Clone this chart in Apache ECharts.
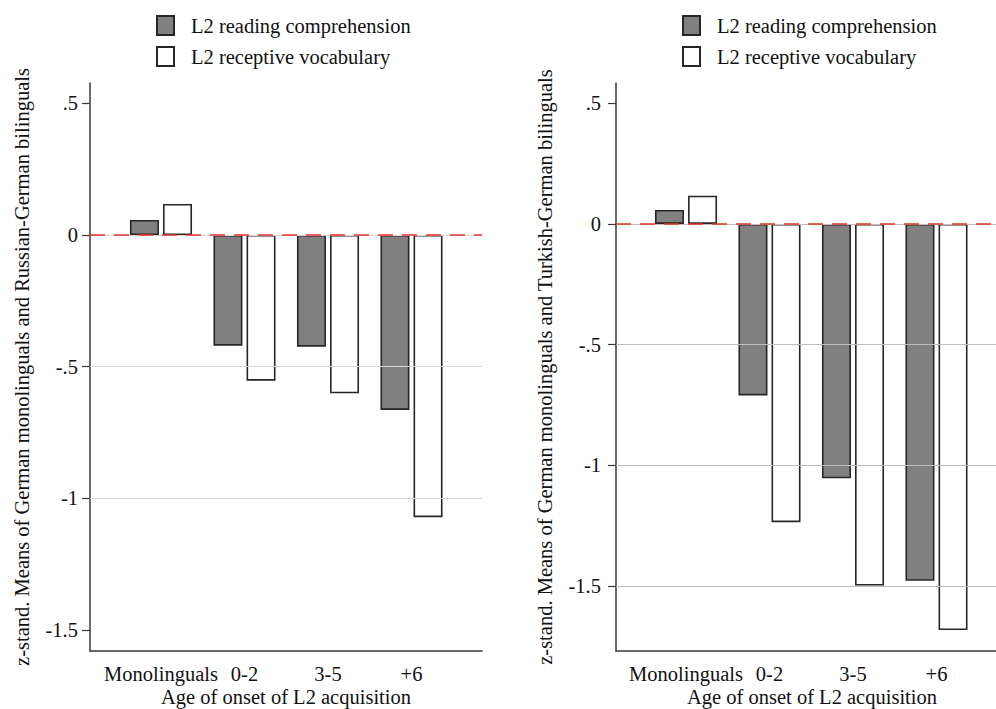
<!DOCTYPE html>
<html>
<head>
<meta charset="utf-8">
<script src="https://cdn.jsdelivr.net/npm/echarts@6/dist/echarts.min.js"></script>
<style>html,body{margin:0;padding:0;background:#fff}#c{width:996px;height:709px}</style>
</head>
<body>
<div id="c"></div>
<script>
// ---- data ----
var categories = ['Monolinguals', '0-2', '3-5', '+6'];
var seriesNames = ['L2 reading comprehension', 'L2 receptive vocabulary'];
var readingRU = [0.057, -0.420, -0.424, -0.664];
var vocabRU   = [0.118, -0.553, -0.601, -1.071];
var readingTR = [0.058, -0.711, -1.054, -1.479];
var vocabTR   = [0.117, -1.236, -1.499, -1.683];
var tickValues = [0.5, 0, -0.5, -1, -1.5];
var tickLabels = ['.5', '0', '-.5', '-1', '-1.5'];
var gridLinesRU = [0, -0.5, -1];
var gridLinesTR = [0, -0.5, -1, -1.5];
var rangeRU = [-1.579, 0.577];
var rangeTR = [-1.770, 0.584];
var yTitleRU = 'z-stand. Means of German monolinguals and Russian-German bilinguals';
var yTitleTR = 'z-stand. Means of German monolinguals and Turkish-German bilinguals';
var xTitle = 'Age of onset of L2 acquisition';

// ---- styling ----
var FONT = 'Liberation Serif';
var FS = 20.5;
var AX = '#3a3a3a';
function fmt(v) {
  for (var i = 0; i < tickValues.length; i++) if (Math.abs(tickValues[i] - v) < 1e-9) return tickLabels[i];
  return '';
}
function frameX(grid) {
  return {
    gridIndex: grid, type: 'value', min: 0, max: 1,
    axisLine: { show: true, onZero: false, lineStyle: { color: AX, width: 1.5 } },
    axisTick: { show: false }, axisLabel: { show: false }, splitLine: { show: false },
    name: xTitle, nameLocation: 'middle', nameGap: 35,
    nameTextStyle: { fontFamily: FONT, fontSize: FS, color: '#111' }
  };
}
function barX(grid) {
  return {
    gridIndex: grid, type: 'category', data: categories,
    axisLine: { show: false }, axisTick: { show: false }, splitLine: { show: false },
    axisLabel: { interval: 0, hideOverlap: false, margin: 12, fontFamily: FONT, fontSize: FS, color: '#111' }
  };
}
function frameY(grid, range, title, labelMargin, nameGap) {
  return {
    gridIndex: grid, type: 'value', min: range[0], max: range[1],
    axisLine: { show: true, onZero: false, lineStyle: { color: AX, width: 1.5 } },
    axisTick: { show: true, inside: false, length: 8, customValues: tickValues, lineStyle: { color: AX, width: 1.2 } },
    axisLabel: { customValues: tickValues, formatter: fmt, margin: labelMargin, fontFamily: FONT, fontSize: FS, color: '#111' },
    splitLine: { show: false },
    name: title, nameLocation: 'middle', nameGap: nameGap, nameRotate: 90,
    nameTextStyle: { fontFamily: FONT, fontSize: FS, color: '#111' }
  };
}
function barY(grid, range) {
  return { gridIndex: grid, type: 'value', min: range[0], max: range[1], show: false, splitLine: { show: false } };
}
function bars(name, data, axis, fill) {
  return {
    name: name, type: 'bar', xAxisIndex: axis, yAxisIndex: axis, data: data,
    barWidth: 29, barGap: '14%', z: 3,
    itemStyle: { color: fill, borderColor: '#262626', borderWidth: 1.6 }
  };
}
function gridHelper(axis, lines, color) {
  return {
    type: 'line', xAxisIndex: axis, yAxisIndex: axis, data: [], z: 1, silent: true,
    markLine: {
      silent: true, symbol: 'none', label: { show: false }, animation: false,
      lineStyle: { color: color, width: 1, type: 'solid' },
      data: lines.map(function (v) { return { yAxis: v }; })
    }
  };
}
function zeroHelper(axis) {
  return {
    type: 'line', xAxisIndex: axis, yAxisIndex: axis, data: [], z: 5, silent: true,
    markLine: {
      silent: true, symbol: 'none', label: { show: false }, animation: false, z: 5,
      lineStyle: { color: '#e8302c', width: 1.6, type: [15, 9] },
      data: [{ yAxis: 0 }]
    }
  };
}
function legend(left) {
  return {
    left: left, top: 15, orient: 'vertical', padding: 0,
    itemWidth: 17, itemHeight: 19, itemGap: 10, icon: 'rect',
    data: seriesNames, selectedMode: false,
    textStyle: { fontFamily: FONT, fontSize: FS, color: '#111', lineHeight: 19, padding: [0, 0, 0, 12] }
  };
}
function grid(left, width) {
  return { left: left, top: 83, width: width, height: 568, containLabel: false, outerBoundsMode: 'none' };
}

var chart = echarts.init(document.getElementById('c'), null, { renderer: 'svg' });
chart.setOption({
  animation: false,
  backgroundColor: '#fff',
  legend: [legend(156), legend(682)],
  grid: [grid(90, 392), grid(119.25, 334), grid(616, 392), grid(644.25, 334)],
  xAxis: [frameX(0), barX(1), frameX(2), barX(3)],
  yAxis: [
    frameY(0, rangeRU, yTitleRU, 12, 58),
    barY(1, rangeRU),
    frameY(2, rangeTR, yTitleTR, 15, 61),
    barY(3, rangeTR)
  ],
  series: [
    gridHelper(0, gridLinesRU, '#d6d6d6'),
    zeroHelper(0),
    bars(seriesNames[0], readingRU, 1, '#808080'),
    bars(seriesNames[1], vocabRU, 1, '#ffffff'),
    gridHelper(2, gridLinesTR, '#bdbdbd'),
    zeroHelper(2),
    bars(seriesNames[0], readingTR, 3, '#808080'),
    bars(seriesNames[1], vocabTR, 3, '#ffffff')
  ]
});
</script>
</body>
</html>
